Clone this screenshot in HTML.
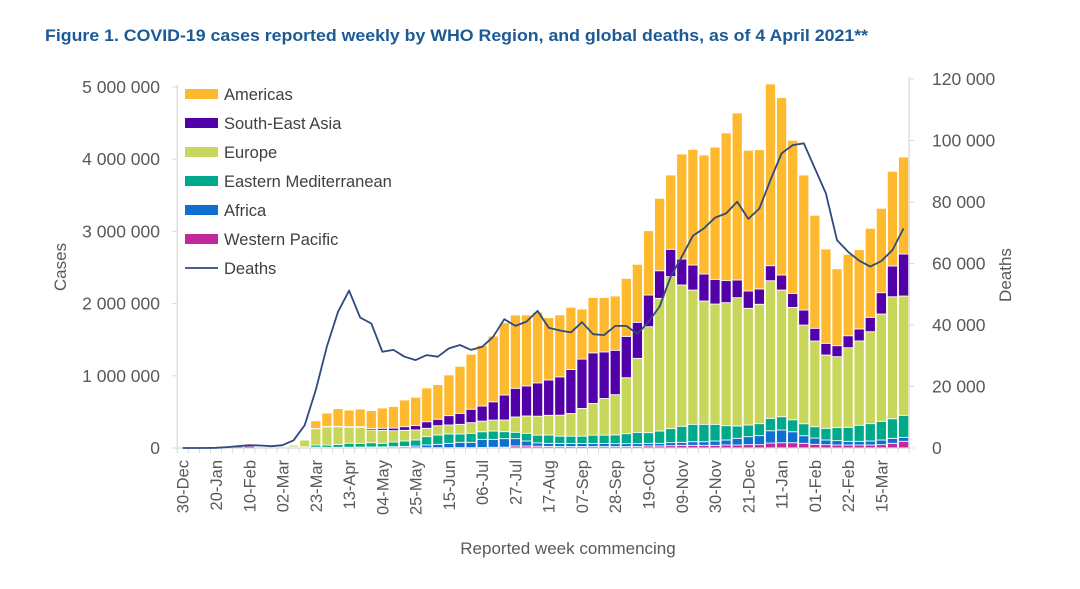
<!DOCTYPE html>
<html><head><meta charset="utf-8"><style>
html,body{margin:0;padding:0;background:#fff;}
svg{display:block;font-family:"Liberation Sans",Arial,sans-serif;}
</style></head><body>
<svg id="chart" width="1080" height="589" viewBox="0 0 1080 589" xmlns="http://www.w3.org/2000/svg">
<text x="45" y="41" font-size="17" font-weight="bold" fill="#1c5a96" textLength="823" lengthAdjust="spacingAndGlyphs">Figure 1. COVID-19 cases reported weekly by WHO Region, and global deaths, as of 4 April 2021**</text>
<g id="bars"></g>
<g id="axes"></g>
<g id="legend"></g>
<text transform="translate(66,267) rotate(-90)" text-anchor="middle" font-size="17" fill="#595959">Cases</text>
<text transform="translate(1011,275) rotate(-90)" text-anchor="middle" font-size="17" fill="#595959">Deaths</text>
<text x="568" y="554" text-anchor="middle" font-size="17" fill="#595959">Reported week commencing</text>
</svg>
<script>
const weeks = ["30-Dec","06-Jan","13-Jan","20-Jan","27-Jan","03-Feb","10-Feb","17-Feb","24-Feb","02-Mar","09-Mar","16-Mar","23-Mar","30-Mar","06-Apr","13-Apr","20-Apr","27-Apr","04-May","11-May","18-May","25-May","01-Jun","08-Jun","15-Jun","22-Jun","29-Jun","06-Jul","13-Jul","20-Jul","27-Jul","03-Aug","10-Aug","17-Aug","24-Aug","31-Aug","07-Sep","14-Sep","21-Sep","28-Sep","05-Oct","12-Oct","19-Oct","26-Oct","02-Nov","09-Nov","16-Nov","23-Nov","30-Nov","07-Dec","14-Dec","21-Dec","28-Dec","04-Jan","11-Jan","18-Jan","25-Jan","01-Feb","08-Feb","15-Feb","22-Feb","01-Mar","08-Mar","15-Mar","22-Mar","29-Mar"];
// values in thousands of cases
const westernPacific = [0,0,0,0.5,12,20,26,12,6,8,8,5,10,8,6,5,5,5,4,4,4,4,5,5,5,6,6,8,10,12,28,28,25,22,20,20,20,20,20,20,20,20,28,28,32,37,37,37,37,42,42,46,46,69,73,73,65,51,46,42,42,42,42,46,65,93];
const africa = [0,0,0,0,0,0,0,0,0,0,0,1,1,2,4,6,8,9,11,14,18,22,37,46,60,73,73,112,110,117,101,69,46,43,43,43,43,43,43,40,40,40,37,37,42,42,50,50,60,69,93,111,125,170,176,152,105,87,65,60,51,51,55,65,69,55];
const easternMed = [0,0,0,0,0,0,0,0,1,5,8,10,30,30,40,55,52,59,50,65,75,85,115,129,129,115,125,105,115,97,89,107,107,115,101,101,101,115,115,122,138,157,147,170,194,222,241,241,231,198,170,162,166,172,184,166,166,157,162,180,194,222,240,259,271,305];
const europe = [0,0,0,0,0,0,0,0,2,12,25,95,226,253,244,222,222,176,180,157,148,139,116,129,125,134,147,148,152,162,212,240,263,273,291,314,384,439,508,557,776,1025,1468,1838,2105,1957,1860,1708,1666,1704,1777,1616,1654,1906,1755,1557,1367,1187,1015,983,1102,1168,1274,1486,1690,1652];
const southEastAsia = [0,0,0,0,0,0,0,0,0,0,0,0,3,5,6,8,10,20,28,35,50,60,91,89,129,152,186,208,253,346,397,416,461,489,530,609,683,701,645,614,572,499,439,382,379,360,346,374,342,305,245,240,212,208,208,194,208,176,162,152,166,166,199,295,425,582];
const americas = [0,0,0,0,0,0,0,0,0,1,3,10,107,186,245,230,243,249,281,300,370,393,467,479,564,651,762,841,910,1001,1015,983,979,863,859,863,693,767,753,752,803,803,891,1003,1029,1454,1602,1648,1832,2046,2313,1949,1929,2517,2456,2119,1870,1565,1306,1066,1127,1098,1233,1169,1312,1343];
// deaths, thousands
const deaths = [0,0,0,0.05,0.3,0.6,0.9,0.8,0.6,0.9,2.5,7.4,18.9,33,44.3,51.2,42.4,40.5,31.3,31.9,29.7,28.6,30.2,29.7,32.4,33.5,31.9,32.9,36.2,41.9,39.7,41.1,44.6,39.1,38.2,37.6,40.9,37,36.7,39.7,39.7,37.1,41,46,55.7,62.2,69,71.4,74.9,76.3,80.1,74.5,77.9,87.2,95.8,98.5,99.1,91,82.8,67.6,63.8,60.9,59,60.8,64.4,71.4];
const leftTicks = [0,1000,2000,3000,4000,5000];
const leftTickLabels = ["0","1 000 000","2 000 000","3 000 000","4 000 000","5 000 000"];
const rightTicks = [0,20,40,60,80,100,120];
const rightTickLabels = ["0","20 000","40 000","60 000","80 000","100 000","120 000"];

const NS="http://www.w3.org/2000/svg";
const X0=177.2, X1=909.1, Y0=448, YTOP=87.0;
const n=weeks.length, pitch=(X1-X0)/n;
const yL=v=>Y0-(v/5000)*(Y0-YTOP);
const yR=v=>Y0-(v/120)*(Y0-79.0);
const xC=i=>X0+pitch*(i+0.5);
function mk(tag,attrs,parent){const e=document.createElementNS(NS,tag);for(const k in attrs)e.setAttribute(k,attrs[k]);parent.appendChild(e);return e;}

const series=[
 {name:"western-pacific",label:"Western Pacific",data:westernPacific,color:"#c2289a"},
 {name:"africa",label:"Africa",data:africa,color:"#0f6fd0"},
 {name:"eastern-mediterranean",label:"Eastern Mediterranean",data:easternMed,color:"#00a98a"},
 {name:"europe",label:"Europe",data:europe,color:"#c9d65c"},
 {name:"south-east-asia",label:"South-East Asia",data:southEastAsia,color:"#5200a8"},
 {name:"americas",label:"Americas",data:americas,color:"#ffb92e"}
];
const bars=document.getElementById('bars');
for(let i=0;i<n;i++){
  let cum=0;
  for(const s of series){
    const v=s.data[i]; if(v<=0){continue;}
    const y1=yL(cum), y2=yL(cum+v); cum+=v;
    const r=mk('rect',{x:xC(i)-pitch/2+0.5,y:y2,width:pitch-1,height:Math.max(y1-y2,0),fill:s.color,stroke:"#ffffff","stroke-width":0.8},bars);
    
    
  }
}
const axes=document.getElementById('axes');
const ax1=mk('line',{x1:X0,y1:YTOP-2,x2:X0,y2:Y0,stroke:"#d9d9d9","stroke-width":1.2},axes);

const ax2=mk('line',{x1:X1,y1:77,x2:X1,y2:Y0,stroke:"#d9d9d9","stroke-width":1.2},axes);

const ax3=mk('line',{x1:X0-5,y1:Y0,x2:X1,y2:Y0,stroke:"#d9d9d9","stroke-width":1.2},axes);

leftTicks.forEach((v,k)=>{
  mk('line',{x1:X0-5,y1:yL(v),x2:X0,y2:yL(v),stroke:"#d9d9d9"},axes);
  const t=mk('text',{x:160,y:yL(v)+6,"text-anchor":"end","font-size":17.5,fill:"#595959"},axes);
  t.textContent=leftTickLabels[k];
  
});
rightTicks.forEach((v,k)=>{
  mk('line',{x1:X1,y1:yR(v),x2:X1+5,y2:yR(v),stroke:"#d9d9d9"},axes);
  const t=mk('text',{x:932,y:yR(v)+6,"font-size":17.5,fill:"#595959"},axes);
  t.textContent=rightTickLabels[k];
  
});
for(let i=0;i<=n;i++){
  mk('line',{x1:X0+pitch*i,y1:Y0,x2:X0+pitch*i,y2:Y0+5,stroke:"#d9d9d9"},axes);
}
for(let i=0;i<n;i+=3){
  const t=mk('text',{transform:`translate(${xC(i)+6},460) rotate(-90)`,"text-anchor":"end","font-size":16.5,fill:"#595959"},axes);
  t.textContent=weeks[i];
  
}
const pts=deaths.map((d,i)=>xC(i).toFixed(1)+","+yR(d).toFixed(1)).join(" ");
const line=mk('polyline',{points:pts,fill:"none",stroke:"#2f4b7c","stroke-width":1.8,"stroke-linejoin":"round"},axes);


const legend=document.getElementById('legend');
const legItems=[series[5],series[4],series[3],series[2],series[1],series[0]];
legItems.forEach((s,k)=>{
  const y=94+k*29;
  const g=mk('g',{},legend);
  
  mk('rect',{x:185,y:y-5,width:33,height:10,fill:s.color},g);
  const t=mk('text',{x:224,y:y+6,"font-size":16.5,fill:"#404040"},g);t.textContent=s.label;
});
const gd=mk('g',{},legend);

mk('line',{x1:185,y1:268,x2:218,y2:268,stroke:"#2f4b7c","stroke-width":1.8},gd);
const td=mk('text',{x:224,y:274,"font-size":16.5,fill:"#404040"},gd);td.textContent="Deaths";
</script>
</body></html>
